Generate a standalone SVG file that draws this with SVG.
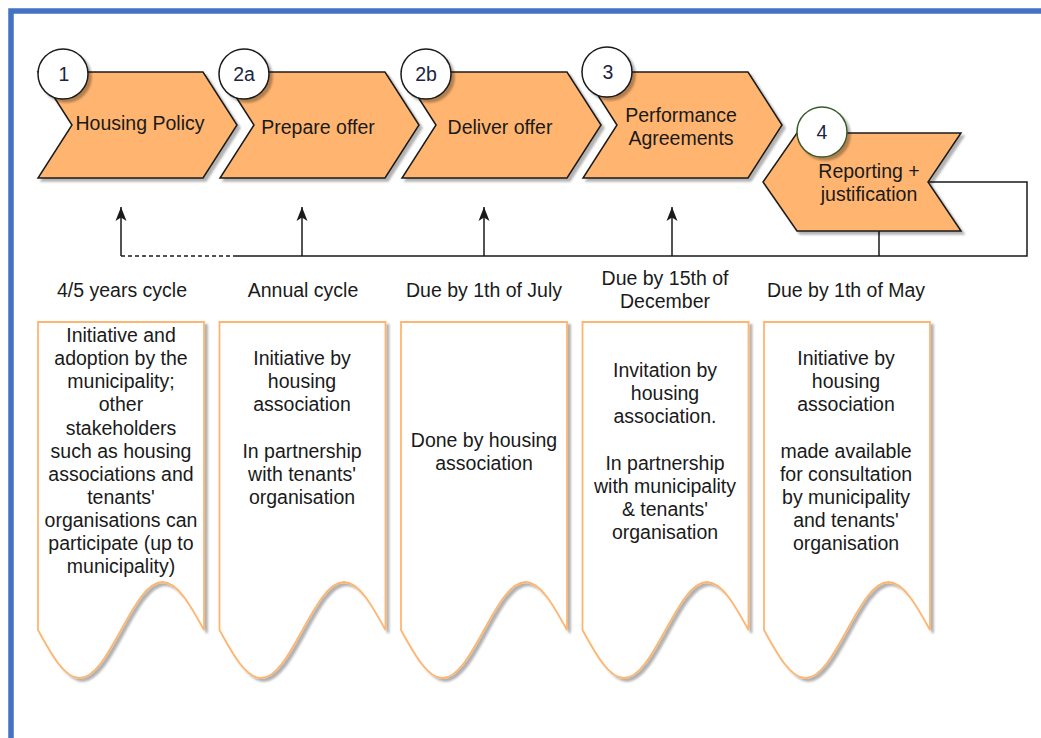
<svg xmlns="http://www.w3.org/2000/svg" width="1041" height="738" viewBox="0 0 1041 738">
<style>
  text { font-family: "Liberation Sans", Arial, sans-serif; font-size: 19.5px; fill: #1a1a1a; text-anchor: middle; }
  .chev { fill: #FFB570; stroke: #1a1a1a; stroke-width: 1.5; stroke-linejoin: miter; }
  .circ { fill: #ffffff; stroke: #1a1a1a; stroke-width: 1.5; }
  .circ4 { fill: #ffffff; stroke: #3b5a2c; stroke-width: 1.5; }
  .num { fill: #1c2541; }
  .doc { fill: #ffffff; stroke: #FFB570; stroke-width: 1.8; }
  .edge { fill: none; stroke: #1a1a1a; stroke-width: 1.5; }
  .dash { fill: none; stroke: #1a1a1a; stroke-width: 1.5; stroke-dasharray: 4 3; }
  .frame { fill: none; stroke: #4472C4; stroke-width: 5.5; }
</style>
<defs>
  <filter id="sh" x="-10%" y="-10%" width="130%" height="130%">
    <feDropShadow dx="3" dy="3" stdDeviation="1.2" flood-color="#000" flood-opacity="0.3"/>
  </filter>
  <marker id="arr" viewBox="0 0 14 12" refX="14" refY="6" markerWidth="14" markerHeight="12" orient="auto" markerUnits="userSpaceOnUse">
    <path d="M0,0.5 L14,6 L0,11.5 L3.5,6 Z" fill="#1a1a1a"/>
  </marker>
  <path id="docshape" d="M0,0 L0,308 C13.5,332.6 26.5,356 41.5,356 C56.5,356 69.5,332.6 83,308 C96.5,283.4 109.5,260 124.5,260 C139.5,260 152.5,283.4 166,308 L166,0 Z"/>
</defs>

<rect width="1041" height="738" fill="#ffffff"/>
<path class="frame" d="M11,740 V11 H1045"/>

<!-- connectors -->
<g id="connectors">
  <path class="dash" d="M237,256 H121"/>
  <path class="edge" d="M928,182 H1027 V256 H237"/>
  <path class="edge" d="M879,231 V256"/>
  <path class="edge" d="M121,256 V207" marker-end="url(#arr)"/>
  <path class="edge" d="M302,256 V207" marker-end="url(#arr)"/>
  <path class="edge" d="M484,256 V207" marker-end="url(#arr)"/>
  <path class="edge" d="M672,256 V207" marker-end="url(#arr)"/>
</g>

<!-- process chevrons -->
<g id="step1">
  <polygon class="chev" filter="url(#sh)" points="38,72 203,72 237,125 203,178 38,178 72,125"/>
  <text x="140" y="130">Housing Policy</text>
  <circle class="circ" filter="url(#sh)" cx="63" cy="74" r="25"/>
  <text class="num" x="64" y="81">1</text>
</g>
<g id="step2a">
  <polygon class="chev" filter="url(#sh)" points="220,72 385,72 419,125 385,178 220,178 254,125"/>
  <text x="318" y="134">Prepare offer</text>
  <circle class="circ" filter="url(#sh)" cx="244" cy="74" r="25"/>
  <text class="num" x="244" y="81">2a</text>
</g>
<g id="step2b">
  <polygon class="chev" filter="url(#sh)" points="402,72 567,72 601,125 567,178 402,178 436,125"/>
  <text x="500" y="134">Deliver offer</text>
  <circle class="circ" filter="url(#sh)" cx="426" cy="74" r="25"/>
  <text class="num" x="426" y="81">2b</text>
</g>
<g id="step3">
  <polygon class="chev" filter="url(#sh)" points="583,72 748,72 782,125 748,178 583,178 617,125"/>
  <text x="681" y="122">Performance</text>
  <text x="681" y="145">Agreements</text>
  <circle class="circ" filter="url(#sh)" cx="607" cy="72" r="25"/>
  <text class="num" x="608" y="79">3</text>
</g>
<g id="step4">
  <polygon class="chev" filter="url(#sh)" points="797,133 961,133 928,182 961,231 797,231 763,182"/>
  <text x="869" y="178">Reporting +</text>
  <text x="869" y="201">justification</text>
  <circle class="circ4" filter="url(#sh)" cx="822" cy="132" r="25"/>
  <text class="num" x="822" y="139">4</text>
</g>

<!-- timing labels -->
<g id="timing">
  <text x="122" y="297">4/5 years cycle</text>
  <text x="303" y="297">Annual cycle</text>
  <text x="484" y="297">Due by 1th of July</text>
  <text x="665" y="285">Due by 15th of</text>
  <text x="665" y="308">December</text>
  <text x="846" y="297">Due by 1th of May</text>
</g>

<!-- description boxes -->
<g id="desc1">
  <use href="#docshape" x="38" y="322" class="doc" filter="url(#sh)"/>
  <text x="121" y="342">Initiative and</text>
  <text x="121" y="365">adoption by the</text>
  <text x="121" y="388">municipality;</text>
  <text x="121" y="411">other</text>
  <text x="121" y="435">stakeholders</text>
  <text x="121" y="458">such as housing</text>
  <text x="121" y="481">associations and</text>
  <text x="121" y="504">tenants'</text>
  <text x="121" y="527">organisations can</text>
  <text x="121" y="550">participate (up to</text>
  <text x="121" y="573">municipality)</text>
</g>
<g id="desc2">
  <use href="#docshape" x="219.5" y="322" class="doc" filter="url(#sh)"/>
  <text x="302" y="365">Initiative by</text>
  <text x="302" y="388">housing</text>
  <text x="302" y="411">association</text>
  <text x="302" y="458">In partnership</text>
  <text x="302" y="481">with tenants'</text>
  <text x="302" y="504">organisation</text>
</g>
<g id="desc3">
  <use href="#docshape" x="401" y="322" class="doc" filter="url(#sh)"/>
  <text x="484" y="447">Done by housing</text>
  <text x="484" y="470">association</text>
</g>
<g id="desc4">
  <use href="#docshape" x="582.5" y="322" class="doc" filter="url(#sh)"/>
  <text x="665" y="377">Invitation by</text>
  <text x="665" y="400">housing</text>
  <text x="665" y="423">association.</text>
  <text x="665" y="470">In partnership</text>
  <text x="665" y="493">with municipality</text>
  <text x="665" y="516">&amp; tenants'</text>
  <text x="665" y="539">organisation</text>
</g>
<g id="desc5">
  <use href="#docshape" x="764" y="322" class="doc" filter="url(#sh)"/>
  <text x="846" y="365">Initiative by</text>
  <text x="846" y="388">housing</text>
  <text x="846" y="411">association</text>
  <text x="846" y="458">made available</text>
  <text x="846" y="481">for consultation</text>
  <text x="846" y="504">by municipality</text>
  <text x="846" y="527">and tenants'</text>
  <text x="846" y="550">organisation</text>
</g>
</svg>
